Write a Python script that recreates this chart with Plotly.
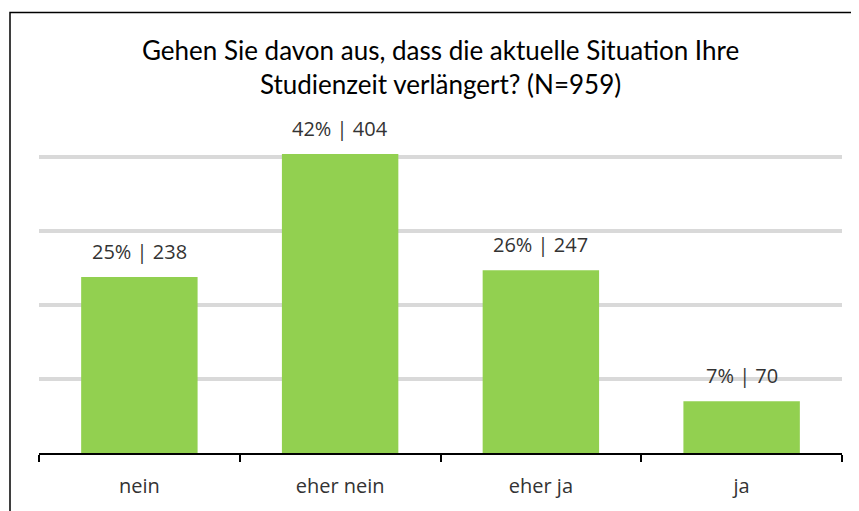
import plotly.graph_objects as go

categories = ["nein", "eher nein", "eher ja", "ja"]
counts = [238, 404, 247, 70]
percents = [25, 42, 26, 7]
title_lines = ["Gehen Sie davon aus, dass die aktuelle Situation Ihre",
               "Studienzeit verlängert? (N=959)"]

# page has an 8px body margin, so the figure is laid out in shifted coords
OFF = 8
W, H = 859 - OFF, 511 - OFF
ml, mr, mb = 39 - OFF, 17, 56
ymax = 500
plot_h = 372.5
mt = H - mb - plot_h

fig = go.Figure()
fig.add_trace(go.Bar(
    x=categories, y=counts,
    marker=dict(color="#92D050", line=dict(width=0)),
    hoverinfo="skip",
))

label_font = dict(family="Open Sans", size=20, color="#333333")

for c, n, p in zip(categories, counts, percents):
    fig.add_annotation(
        x=c, y=n, xref="x", yref="y",
        text=f"{p}% | {n}", showarrow=False,
        yanchor="bottom", yshift=10,
        font=label_font,
    )

fig.add_annotation(
    x=0.5, y=(H - mb - 58) / plot_h, xref="paper", yref="paper",
    text="<br>".join(title_lines), showarrow=False,
    yanchor="middle", xanchor="center",
    font=dict(family="Lato", size=26, color="#000000"),
)

# chart border (left and top edges visible)
plot_w = W - ml - mr
x_left = (10 - OFF - ml) / plot_w
y_top = (H - mb - (11.5 - OFF)) / plot_h
fig.add_shape(type="path", xref="paper", yref="paper",
              path=f"M {x_left} -1 L {x_left} {y_top} L 1.2 {y_top}",
              line=dict(color="#000000", width=1.5), layer="above")

fig.update_layout(
    width=W, height=H,
    margin=dict(l=ml, r=mr, t=mt, b=mb, pad=0),
    paper_bgcolor="white", plot_bgcolor="white",
    bargap=0.42,
    showlegend=False,
    xaxis=dict(
        type="category", tickson="boundaries", ticks="outside",
        ticklen=7, tickwidth=2, tickcolor="#000000",
        showline=True, linecolor="#000000", linewidth=2,
        showgrid=False,
        tickfont=label_font,
        ticklabelstandoff=14,
    ),
    yaxis=dict(
        range=[0, ymax], dtick=100, showticklabels=False,
        showgrid=True, gridcolor="#D9D9D9", gridwidth=4,
        zeroline=False, showline=False,
    ),
)

fig.write_html("out.html")
